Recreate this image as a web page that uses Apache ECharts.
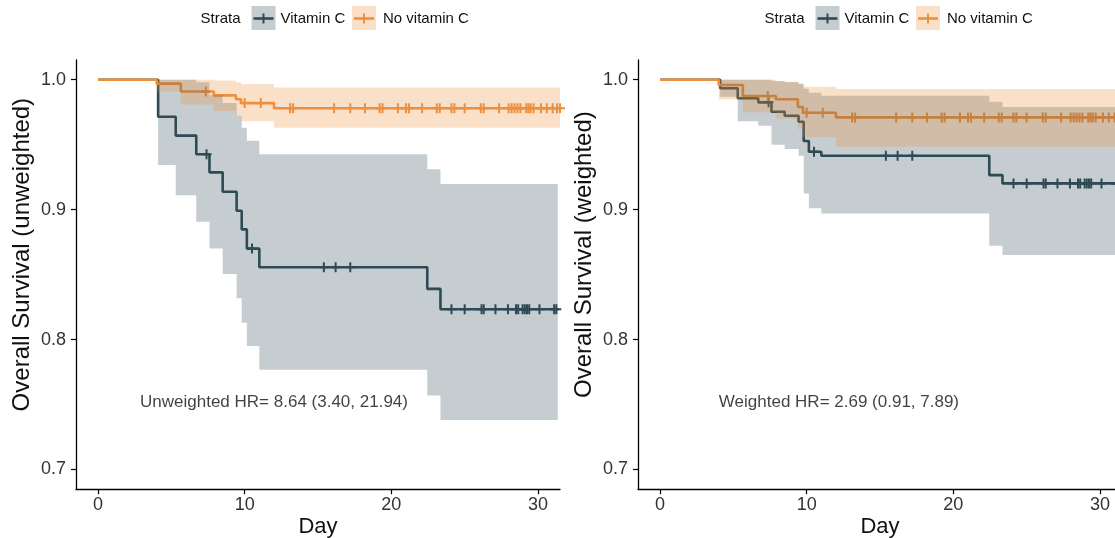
<!DOCTYPE html>
<html>
<head>
<meta charset="utf-8">
<script src="https://cdn.jsdelivr.net/npm/echarts@6/dist/echarts.min.js"></script>
<style>
  html, body { margin: 0; padding: 0; background: #fff; }
  #chart { width: 1115px; height: 538px; }
</style>
</head>
<body>
<div id="chart"></div>
<script>
// Kaplan–Meier curves for the two strata, unweighted (left) and weighted (right).
// Event days per stratum, with survival and 95% band after each event.
const vitCTimes = [4.1, 5.3, 6.7, 7.6, 8.5, 9.45, 9.8, 10.15, 11.0, 22.45, 23.35];
const vitCSurvUnw = [0.9715, 0.957, 0.9426, 0.9287, 0.9138, 0.8992, 0.8848, 0.870, 0.8556, 0.839, 0.8233];
const vitCLowerUnw = [0.9343, 0.911, 0.8907, 0.870, 0.8504, 0.8317, 0.8129, 0.795, 0.7768, 0.757, 0.738];
const vitCUpperUnw = [1.0, 1.0, 0.998, 0.988, 0.982, 0.9723, 0.963, 0.953, 0.9426, 0.931, 0.9197];
const vitCSurvW = [0.9934, 0.9857, 0.9826, 0.9754, 0.9723, 0.9677, 0.9528, 0.9446, 0.9415, 0.9266, 0.9202];
const vitCLowerW = [0.987, 0.968, 0.9646, 0.950, 0.9466, 0.9415, 0.9125, 0.901, 0.8971, 0.8722, 0.865];
const vitCUpperW = [1.0, 1.0, 1.0, 0.999, 0.998, 0.997, 0.993, 0.990, 0.9877, 0.983, 0.979];

const noVitCTimes = [4.0, 5.65, 7.9, 9.4, 9.75, 12.0];
const noVitCSurvUnw = [0.997, 0.991, 0.988, 0.985, 0.982, 0.978];
const noVitCLowerUnw = [0.991, 0.981, 0.976, 0.972, 0.968, 0.963];
const noVitCUpperUnw = [1.0, 1.0, 0.9995, 0.998, 0.9967, 0.994];
const noVitCSurvW = [0.9959, 0.9875, 0.985, 0.979, 0.9746, 0.971];
const noVitCLowerW = [0.985, 0.975, 0.970, 0.962, 0.956, 0.9484];
const noVitCUpperW = [1.0, 1.0, 0.9985, 0.9967, 0.9946, 0.9928];

// Censoring days
const vitCCensor = [7.4, 10.5, 15.4, 16.2, 17.2, 24.1, 25.0, 26.15, 26.3, 27.1, 27.95, 28.5, 28.65,
  28.95, 29.1, 29.25, 29.4, 30.1, 31.1, 31.25];
const noVitCCensor = [7.35, 10.0, 11.1, 13.1, 13.3, 16.1, 17.2, 18.2, 19.2, 19.4, 20.45, 21.0, 21.2,
  22.1, 23.1, 23.3, 24.1, 24.3, 25.0, 26.1, 26.3, 27.35, 28.0, 28.2, 28.4, 28.6, 28.8, 29.2, 29.35,
  29.5, 29.7, 30.2, 30.6, 31.0, 31.3, 31.5];
const vitCEnd = 31.35;
const noVitCEnd = 31.5;

const xTicks = [0, 10, 20, 30];
const yTicks = [0.7, 0.8, 0.9, 1.0];
const strataNames = ['Vitamin C', 'No vitamin C'];
const yTitles = ['Overall Survival (unweighted)', 'Overall Survival (weighted)'];
const hrLabels = ['Unweighted HR= 8.64 (3.40, 21.94)', 'Weighted HR= 2.69 (0.91, 7.89)'];
const hrPos = [[12, 0.752], [12.2, 0.752]];

const COL_VITC = '#2e4a55';
const COL_NOVITC = '#ee8f3c';
const BAND_ALPHA = 0.28;
const FONT = '"Liberation Sans", Arial, Helvetica, sans-serif';

function rgba(hex, a) {
  const n = parseInt(hex.slice(1), 16);
  return 'rgba(' + (n >> 16) + ',' + ((n >> 8) & 255) + ',' + (n & 255) + ',' + a + ')';
}

function stepLine(times, surv, end) {
  const pts = [[0, 1]];
  times.forEach((t, i) => pts.push([t, surv[i]]));
  pts.push([end, surv[surv.length - 1]]);
  return pts;
}

function bandRows(times, lo, hi, end) {
  const rows = times.map((t, i) => [t, lo[i], hi[i]]);
  rows.push([end, lo[lo.length - 1], hi[hi.length - 1]]);
  return rows;
}

function survAt(times, surv, t) {
  let s = 1;
  for (let i = 0; i < times.length; i++) if (times[i] <= t) s = surv[i];
  return s;
}

const CROSS = 'path://M4,0h2v4h4v2h-4v4h-2v-4h-4v-2h4z';

function bandSeries(rows, color, gi, z) {
  return {
    type: 'custom',
    xAxisIndex: gi, yAxisIndex: gi,
    z: z, silent: true, clip: true,
    data: rows,
    renderItem: function (params, api) {
      if (params.dataIndex !== 0) return null;
      const top = [], bottom = [];
      for (let i = 0; i < rows.length - 1; i++) {
        top.push(api.coord([rows[i][0], rows[i][2]]));
        top.push(api.coord([rows[i + 1][0], rows[i][2]]));
        bottom.push(api.coord([rows[i][0], rows[i][1]]));
        bottom.push(api.coord([rows[i + 1][0], rows[i][1]]));
      }
      return {
        type: 'polygon',
        shape: { points: top.concat(bottom.reverse()) },
        style: { fill: rgba(color, BAND_ALPHA) }
      };
    }
  };
}

function lineSeries(name, pts, color, gi) {
  return {
    name: name, type: 'line', step: 'end', xAxisIndex: gi, yAxisIndex: gi,
    data: pts, showSymbol: false, symbol: 'none', z: 2, silent: true,
    lineStyle: { color: color, width: 2.6 }
  };
}

function censorSeries(times, surv, cens, color, gi) {
  return {
    type: 'scatter', xAxisIndex: gi, yAxisIndex: gi, z: 2, silent: true,
    symbol: CROSS, symbolSize: [10, 10],
    itemStyle: { color: color, opacity: 1 },
    data: cens.map(t => [t, survAt(times, surv, t)])
  };
}

const panels = [
  { vs: vitCSurvUnw, vl: vitCLowerUnw, vu: vitCUpperUnw, ns: noVitCSurvUnw, nl: noVitCLowerUnw, nu: noVitCUpperUnw },
  { vs: vitCSurvW, vl: vitCLowerW, vu: vitCUpperW, ns: noVitCSurvW, nl: noVitCLowerW, nu: noVitCUpperW }
];

const gridLeft = [76, 638];
const grids = gridLeft.map(l => ({
  left: l, top: 60, width: 484, height: 429.3, outerBoundsMode: 'none', containLabel: false
}));

const xAxes = [0, 1].map(gi => ({
  gridIndex: gi, type: 'value', min: -1.5, max: 31.5,
  splitLine: { show: false },
  axisLine: { onZero: false, lineStyle: { color: '#000', width: 1.3 } },
  axisTick: { customValues: xTicks, length: 5, lineStyle: { color: '#000', width: 1.2 } },
  axisLabel: { customValues: xTicks, fontSize: 18, color: '#333', margin: 7, fontFamily: FONT },
  name: 'Day', nameLocation: 'middle', nameGap: 27, nameMoveOverlap: false,
  nameTextStyle: { fontSize: 22, color: '#111', fontFamily: FONT }
}));

const yAxes = [0, 1].map(gi => ({
  gridIndex: gi, type: 'value', min: 0.6847, max: 1.0152,
  splitLine: { show: false },
  axisLine: { onZero: false, lineStyle: { color: '#000', width: 1.3 } },
  axisTick: { customValues: yTicks, length: 5, lineStyle: { color: '#000', width: 1.2 } },
  axisLabel: { customValues: yTicks, fontSize: 18, color: '#333', margin: 10, fontFamily: FONT,
    formatter: v => v.toFixed(1) },
  name: yTitles[gi], nameLocation: 'middle', nameGap: 42, nameMoveOverlap: false,
  nameTextStyle: { fontSize: 24, color: '#111', fontFamily: FONT, padding: [0, 0, 0, 40] }
}));

const series = [];
panels.forEach((p, gi) => {
  series.push(lineSeries(strataNames[0], stepLine(vitCTimes, p.vs, vitCEnd), COL_VITC, gi));
  series.push(lineSeries(strataNames[1], stepLine(noVitCTimes, p.ns, noVitCEnd), COL_NOVITC, gi));
  series.push(censorSeries(vitCTimes, p.vs, vitCCensor, COL_VITC, gi));
  series.push(censorSeries(noVitCTimes, p.ns, noVitCCensor, COL_NOVITC, gi));
  series.push(bandSeries(bandRows(vitCTimes, p.vl, p.vu, vitCEnd), COL_VITC, gi, 3));
  series.push(bandSeries(bandRows(noVitCTimes, p.nl, p.nu, noVitCEnd), COL_NOVITC, gi, 4));
  series.push({
    type: 'scatter', xAxisIndex: gi, yAxisIndex: gi, symbolSize: 0, silent: true, z: 5,
    data: [hrPos[gi]],
    label: { show: true, position: 'inside', formatter: hrLabels[gi], fontSize: 17,
      color: '#111', fontFamily: FONT }
  });
});

// Legend keys: filled box with the stratum's line and censor cross
function legendGroup(x0) {
  const els = [];
  els.push({ type: 'text', x: x0, y: 18.5,
    style: { text: 'Strata', font: '15px ' + FONT, fill: '#111', verticalAlign: 'middle' } });
  const keys = [
    { color: COL_VITC, bx: x0 + 51, tx: x0 + 80, label: strataNames[0] },
    { color: COL_NOVITC, bx: x0 + 151.5, tx: x0 + 182.5, label: strataNames[1] }
  ];
  keys.forEach(k => {
    els.push({ type: 'rect', shape: { x: k.bx, y: 6, width: 24, height: 24 },
      style: { fill: rgba(k.color, BAND_ALPHA) } });
    els.push({ type: 'line', shape: { x1: k.bx + 2, y1: 18.5, x2: k.bx + 22, y2: 18.5 },
      style: { stroke: k.color, lineWidth: 2.6 } });
    els.push({ type: 'line', shape: { x1: k.bx + 12, y1: 13.5, x2: k.bx + 12, y2: 23.5 },
      style: { stroke: k.color, lineWidth: 2 } });
    els.push({ type: 'text', x: k.tx, y: 18.5,
      style: { text: k.label, font: '15px ' + FONT, fill: '#111', verticalAlign: 'middle' } });
  });
  return els;
}

const chart = echarts.init(document.getElementById('chart'), null, { renderer: 'canvas' });
chart.setOption({
  animation: false,
  backgroundColor: '#fff',
  grid: grids,
  xAxis: xAxes,
  yAxis: yAxes,
  series: series,
  graphic: legendGroup(200.5).concat(legendGroup(764.5))
});
</script>
</body>
</html>
